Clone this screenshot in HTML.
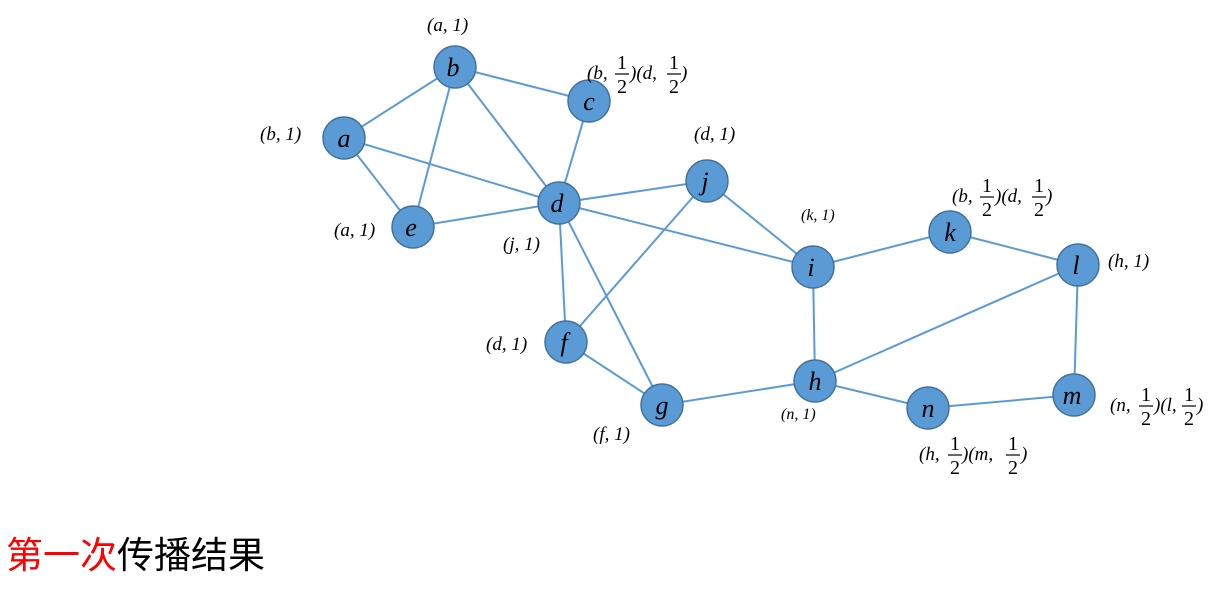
<!DOCTYPE html>
<html><head><meta charset="utf-8"><style>
body{margin:0;background:#fff;width:1227px;height:592px;overflow:hidden}
svg text{font-family:"Liberation Serif",serif;font-style:italic;fill:#000}
.n text{font-size:26px}
.l text{font-size:19px}
.s text{font-size:16px}
.f text{font-size:20px;font-style:normal}
</style></head><body>
<svg width="1227" height="592" xmlns="http://www.w3.org/2000/svg">
<g stroke="#5b9bd5" stroke-width="2">
<line x1="344" y1="138" x2="455" y2="67"/>
<line x1="455" y1="67" x2="589" y2="101"/>
<line x1="455" y1="67" x2="559" y2="203"/>
<line x1="455" y1="67" x2="413" y2="227"/>
<line x1="344" y1="138" x2="413" y2="227"/>
<line x1="344" y1="138" x2="559" y2="203"/>
<line x1="589" y1="101" x2="559" y2="203"/>
<line x1="559" y1="203" x2="413" y2="227"/>
<line x1="559" y1="203" x2="707" y2="181"/>
<line x1="559" y1="203" x2="813" y2="267"/>
<line x1="559" y1="203" x2="566" y2="342"/>
<line x1="559" y1="203" x2="662" y2="405"/>
<line x1="707" y1="181" x2="566" y2="342"/>
<line x1="707" y1="181" x2="813" y2="267"/>
<line x1="813" y1="267" x2="950" y2="232"/>
<line x1="813" y1="267" x2="815" y2="381"/>
<line x1="950" y1="232" x2="1078" y2="265"/>
<line x1="1078" y1="265" x2="815" y2="381"/>
<line x1="1078" y1="265" x2="1074" y2="395"/>
<line x1="815" y1="381" x2="662" y2="405"/>
<line x1="566" y1="342" x2="662" y2="405"/>
<line x1="815" y1="381" x2="928" y2="408"/>
<line x1="928" y1="408" x2="1074" y2="395"/>
</g>
<g fill="#5b9bd5" stroke="#41719c" stroke-width="1.5">
<circle cx="455" cy="67" r="21"/><circle cx="589" cy="101" r="21"/>
<circle cx="344" cy="138" r="21"/><circle cx="559" cy="203" r="21"/>
<circle cx="707" cy="181" r="21"/><circle cx="413" cy="227" r="21"/>
<circle cx="813" cy="267" r="21"/><circle cx="950" cy="232" r="21"/>
<circle cx="1078" cy="265" r="21"/><circle cx="566" cy="342" r="21"/>
<circle cx="815" cy="381" r="21"/><circle cx="662" cy="405" r="21"/>
<circle cx="928" cy="408" r="21"/><circle cx="1074" cy="395" r="21"/>
</g>
<g class="n" text-anchor="middle">
<text x="453" y="76">b</text><text x="589" y="110">c</text>
<text x="344" y="147">a</text><text x="557" y="212">d</text>
<text x="705" y="190">j</text><text x="411" y="236">e</text>
<text x="811" y="276">i</text><text x="950" y="241">k</text>
<text x="1076" y="274">l</text><text x="564" y="351">f</text>
<text x="815" y="390">h</text><text x="662" y="414">g</text>
<text x="928" y="417">n</text><text x="1072" y="404">m</text>
</g>
<g class="l">
<text x="427" y="31">(a, 1)</text>
<text x="260" y="140">(b, 1)</text>
<text x="334" y="236">(a, 1)</text>
<text x="503" y="250">(j, 1)</text>
<text x="694" y="140">(d, 1)</text>
<text x="1108" y="267">(h, 1)</text>
<text x="486" y="350">(d, 1)</text>
<text x="593" y="440">(f, 1)</text>
</g>
<g class="s">
<text x="801" y="220">(k, 1)</text>
<text x="781" y="419">(n, 1)</text>
</g>
<g class="l">
<text x="587" y="79">(b,</text><text x="630" y="79">)(d,</text><text x="681" y="79">)</text>
<text x="952" y="202">(b,</text><text x="995" y="202">)(d,</text><text x="1046" y="202">)</text>
<text x="1110" y="411">(n,</text><text x="1154" y="411">)(l,</text><text x="1197" y="411">)</text>
<text x="919" y="460">(h,</text><text x="962" y="460">)(m,</text><text x="1021" y="460">)</text>
</g>
<g class="f" text-anchor="middle">
<text x="622" y="69">1</text><text x="622" y="93">2</text>
<text x="674" y="69">1</text><text x="674" y="93">2</text>
<text x="987" y="192">1</text><text x="987" y="216">2</text>
<text x="1039" y="192">1</text><text x="1039" y="216">2</text>
<text x="1146" y="401">1</text><text x="1146" y="425">2</text>
<text x="1189" y="401">1</text><text x="1189" y="425">2</text>
<text x="955" y="450">1</text><text x="955" y="474">2</text>
<text x="1013" y="450">1</text><text x="1013" y="474">2</text>
</g>
<g stroke="#000" stroke-width="1.2">
<line x1="615" y1="74" x2="629" y2="74"/><line x1="667" y1="74" x2="681" y2="74"/>
<line x1="980" y1="197" x2="994" y2="197"/><line x1="1032" y1="197" x2="1046" y2="197"/>
<line x1="1139" y1="406" x2="1153" y2="406"/><line x1="1182" y1="406" x2="1196" y2="406"/>
<line x1="948" y1="455" x2="962" y2="455"/><line x1="1006" y1="455" x2="1020" y2="455"/>
</g>
<text x="6" y="568" style="font-family:'Liberation Sans','Noto Sans CJK SC',sans-serif;font-style:normal;font-size:37px"><tspan fill="#ff0000">第一次</tspan><tspan fill="#000">传播结果</tspan></text>
</svg>
</body></html>
